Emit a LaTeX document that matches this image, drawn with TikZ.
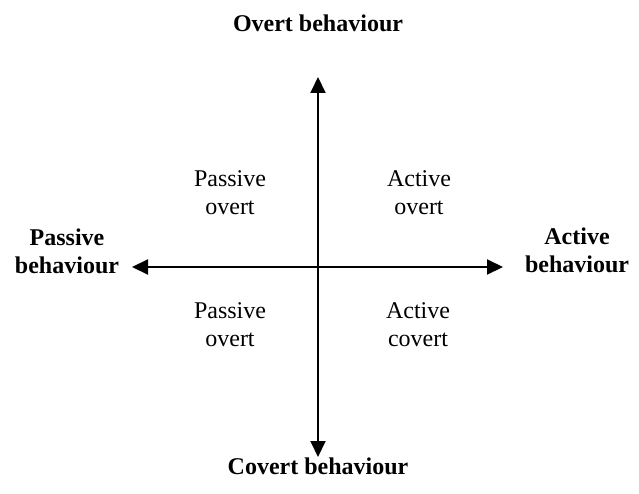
\documentclass[tikz,border=0pt]{standalone}
\usepackage{fontspec}
\setmainfont{Liberation Serif}
\usetikzlibrary{arrows.meta}
\begin{document}
\begin{tikzpicture}[x=1pt,y=-1pt,
  axis/.style={line width=2pt,-{Triangle[length=16pt,width=15pt]}},
  quad/.style={font=\fontsize{24}{28}\selectfont,align=center,inner sep=0pt},
  pole/.style={font=\fontsize{24}{28}\selectfont\bfseries,align=center,inner sep=0pt}]
\useasboundingbox (0,0) rectangle (639,494);
\coordinate (o) at (318,267);
\coordinate (top) at (318,77);
\coordinate (bot) at (318,457);
\coordinate (lft) at (132,267);
\coordinate (rgt) at (503,267);
\draw[axis] (o) -- (top);
\draw[axis] (o) -- (bot);
\draw[axis] (o) -- (lft);
\draw[axis] (o) -- (rgt);
\node[pole,anchor=base] (ob) at (318,32) {Overt behaviour};
\node[pole,anchor=base] (cb) at (318,474) {Covert behaviour};
\node[pole] (pb) at (67,251) {Passive\\behaviour};
\node[pole] (ab) at (577,250) {Active\\behaviour};
\node[quad] (po1) at (230,193) {Passive\\overt};
\node[quad] (ao) at (419,193) {Active\\overt};
\node[quad] (po2) at (230,325) {Passive\\overt};
\node[quad] (ac) at (418,325) {Active\\covert};
\end{tikzpicture}
\end{document}
